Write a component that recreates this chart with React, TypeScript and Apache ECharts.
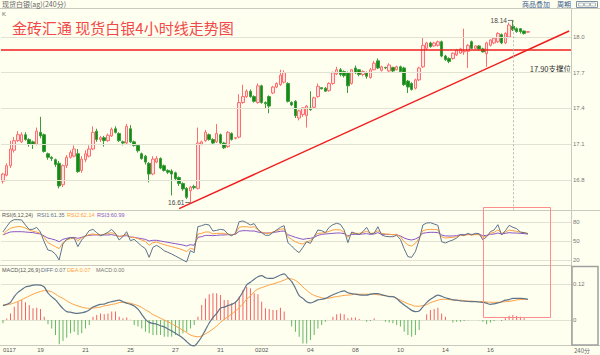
import React, { useEffect, useRef } from 'react';
import * as echarts from 'echarts';

// [open, close, low, high]
const candles: number[][] = [
  [16.79,16.85,16.77,16.86],[16.84,16.92,16.83,16.94],[16.92,17.06,16.90,17.13],[17.05,17.13,17.03,17.16],[17.13,17.18,17.12,17.21],
  [17.12,17.18,17.11,17.20],[17.18,17.14,17.13,17.20],[17.14,17.10,17.08,17.15],[17.12,17.10,17.06,17.13],[17.10,17.21,17.09,17.24],
  [17.20,17.17,17.15,17.33],[17.18,17.04,17.03,17.19],[17.02,16.99,16.97,17.03],[16.99,16.98,16.96,17.00],[16.97,16.93,16.91,16.98],
  [16.94,16.75,16.73,16.96],[16.76,16.92,16.74,16.93],[16.92,16.99,16.90,17.01],[16.99,17.03,16.98,17.05],[17.00,17.06,16.99,17.09],
  [17.02,16.87,16.86,17.06],[16.88,16.975,16.86,17.00],[16.97,17.02,16.95,17.05],[17.00,17.06,16.99,17.09],[17.06,17.20,17.05,17.25],
  [17.21,17.14,17.12,17.23],[17.14,17.155,17.12,17.17],[17.155,17.13,17.08,17.17],[17.13,17.175,17.12,17.19],[17.17,17.225,17.16,17.24],
  [17.23,17.20,17.19,17.25],[17.19,17.13,17.12,17.20],[17.12,17.11,17.09,17.13],[17.11,17.25,17.10,17.27],[17.23,17.12,17.11,17.26],
  [17.12,17.09,17.08,17.13],[17.09,17.045,17.03,17.10],[17.02,16.98,16.97,17.03],[17.00,16.95,16.93,17.01],[16.94,16.85,16.78,16.95],
  [16.85,16.975,16.84,17.00],[16.95,16.98,16.94,17.00],[16.98,16.90,16.89,16.99],[16.92,16.88,16.87,16.93],[16.88,16.865,16.85,16.89],
  [16.875,16.85,16.67,16.89],[16.86,16.81,16.80,16.87],[16.82,16.77,16.75,16.83],[16.77,16.725,16.71,16.78],[16.73,16.655,16.64,16.74],
  [16.71,16.74,16.61,16.75],[16.745,16.735,16.72,16.76],[16.73,17.11,16.72,17.24],[17.10,17.12,17.09,17.13],[17.13,17.20,17.12,17.22],
  [17.18,17.14,17.13,17.19],[17.14,17.11,17.10,17.15],[17.12,17.19,17.11,17.27],[17.18,17.11,17.10,17.19],[17.11,17.07,17.06,17.12],
  [17.08,17.20,17.07,17.21],[17.19,17.14,17.13,17.20],[17.15,17.155,17.14,17.16],[17.16,17.45,17.15,17.52],[17.45,17.50,17.44,17.60],
  [17.50,17.545,17.49,17.56],[17.545,17.50,17.49,17.56],[17.50,17.46,17.45,17.51],[17.45,17.59,17.44,17.61],[17.59,17.45,17.44,17.60],
  [17.45,17.44,17.40,17.46],[17.50,17.42,17.36,17.51],[17.53,17.58,17.52,17.59],[17.58,17.61,17.57,17.62],[17.60,17.68,17.59,17.725],
  [17.62,17.70,17.61,17.72],[17.61,17.46,17.45,17.62],[17.45,17.43,17.42,17.46],[17.46,17.34,17.32,17.47],[17.32,17.38,17.30,17.39],
  [17.35,17.405,17.33,17.41],[17.34,17.42,17.24,17.43],[17.405,17.39,17.38,17.545],[17.41,17.49,17.40,17.50],[17.50,17.586,17.49,17.61],
  [17.575,17.565,17.56,17.58],[17.57,17.545,17.54,17.58],[17.55,17.61,17.54,17.62],[17.61,17.70,17.60,17.71],[17.69,17.725,17.68,17.75],
  [17.725,17.685,17.67,17.74],[17.71,17.675,17.66,17.72],[17.70,17.59,17.53,17.71],[17.61,17.725,17.60,17.73],[17.74,17.70,17.69,17.76],
  [17.725,17.685,17.67,17.73],[17.685,17.71,17.67,17.72],[17.70,17.67,17.65,17.71],[17.66,17.725,17.65,17.74],[17.725,17.78,17.72,17.80],
  [17.80,17.74,17.73,17.82],[17.72,17.75,17.71,17.76],[17.745,17.74,17.73,17.75],[17.715,17.765,17.70,17.78],[17.745,17.715,17.70,17.75],
  [17.725,17.75,17.72,17.76],[17.75,17.71,17.70,17.76],[17.74,17.60,17.59,17.75],[17.63,17.58,17.53,17.64],[17.61,17.56,17.55,17.62],
  [17.57,17.64,17.56,17.65],[17.64,17.74,17.63,17.75],[17.75,17.93,17.74,18.00],[17.905,17.95,17.89,17.96],[17.95,17.92,17.91,17.96],
  [17.925,17.95,17.92,17.96],[17.93,17.96,17.92,17.97],[17.96,17.84,17.83,17.97],[17.84,17.81,17.80,17.85],[17.82,17.795,17.78,17.83],
  [17.82,17.864,17.81,17.87],[17.85,17.89,17.84,17.90],[17.865,17.90,17.86,17.91],[17.875,17.88,17.85,18.07],[17.88,17.93,17.74,17.94],
  [17.96,17.905,17.90,17.97],[17.905,17.925,17.90,17.93],[17.925,17.90,17.89,17.93],[17.90,17.875,17.87,17.91],[17.86,17.95,17.75,17.96],
  [17.93,17.975,17.92,17.98],[17.95,17.99,17.94,18.00],[17.96,18.03,17.95,18.04],[18.02,17.95,17.94,18.03],[17.95,18.03,17.94,18.04],
  [18.00,18.10,17.99,18.12],[18.09,18.06,18.05,18.14],[18.07,18.045,18.035,18.08],[18.07,18.045,18.03,18.075],[18.05,18.03,18.02,18.055],
  [18.04,18.045,18.035,18.05],
];

const rsi1 = [
  64.2,72.6,80.5,83.7,83.7,83.2,75.3,68.4,68.4,71.6, 64.2,48.9,35.8,34.2,29.5,20.0,45.3,52.6,55.3,54.7,
  41.1,51.6,57.9,66.3,68.4,63.2,58.4,60.5,63.7,68.4, 62.1,51.6,56.8,64.7,50.5,52.6,47.4,42.1,37.9,24.2,
  40.0,43.2,39.5,34.7,32.1,29.5,26.3,23.2,20.0,16.8, 34.7,31.6,72.6,74.2,76.3,75.3,65.8,66.8,68.4,67.4,
  61.1,58.4,62.1,80.5,81.6,78.9,75.3,77.4,68.4,63.2, 59.0,59.0,63.2,67.4,71.6,74.2,47.4,42.1,35.8,31.6,
  40.0,48.9,46.3,56.8,67.4,66.3,63.2,71.6,75.8,77.9, 76.3,67.4,47.4,64.2,62.1,60.0,64.7,71.6,61.1,62.1,
  72.6,59.5,57.4,56.8,56.8,59.0,52.6,37.9,25.3,24.2, 33.2,51.6,75.3,78.4,78.9,76.8,74.7,48.9,46.8,49.5,
  51.6,54.7,60.0,59.0,62.1,59.5,62.1,61.6,51.6,56.8, 64.7,67.4,75.8,59.5,66.3,74.7,71.6,69.5,64.2,63.2,61.35,
];
const rsi2 = [
  59.5,66.3,70.0,71.6,72.6,72.6,70.5,67.4,65.3,64.2, 62.1,55.8,47.4,44.2,41.1,37.9,47.4,51.6,53.7,54.7,
  50.5,54.7,57.9,60.0,61.1,60.0,60.0,60.5,61.6,63.2, 61.1,56.8,58.4,60.5,55.8,55.8,53.7,51.6,49.5,43.2,
  47.4,48.4,46.3,44.2,42.6,41.1,39.5,37.9,35.8,33.2, 38.4,36.8,61.1,62.1,64.2,64.2,61.1,62.1,62.1,62.1,
  60.5,59.5,61.1,71.6,72.6,72.6,71.6,72.6,67.4,64.2, 62.1,62.1,64.2,66.3,68.4,69.5,56.8,52.6,48.9,46.3,
  45.3,48.9,50.5,56.8,62.1,62.6,63.2,65.3,67.4,67.9, 67.4,63.7,55.8,62.1,62.1,62.1,63.2,65.3,62.1,62.6,
  66.3,62.1,61.1,60.5,60.0,60.5,56.8,48.9,43.7,42.1, 46.3,54.2,66.3,67.9,68.4,68.4,67.4,56.8,54.7,55.3,
  55.8,56.8,58.9,58.9,60.0,59.5,60.0,60.0,55.8,57.9, 62.1,63.7,67.4,62.1,64.2,67.4,66.3,65.3,63.7,63.2,62.14,
];
const rsi3 = [
  59.5,62.1,64.2,64.7,64.7,64.7,64.2,63.7,63.2,62.1, 61.1,57.9,54.7,53.2,51.6,48.9,52.6,54.2,55.3,55.8,
  54.2,55.8,57.9,58.9,59.5,59.5,59.5,59.5,59.5,60.0, 58.9,57.4,57.9,58.4,56.3,55.8,54.7,53.7,52.6,50.0,
  51.1,51.1,50.0,48.9,47.9,46.8,45.8,44.7,43.7,42.1, 44.2,43.2,55.8,56.8,58.9,58.9,58.4,58.9,59.5,59.5,
  60.0,60.0,60.5,65.3,66.3,66.3,65.8,65.8,64.2,63.2, 62.6,62.6,63.7,64.2,65.3,65.8,60.0,57.9,55.8,54.2,
  52.6,53.7,54.2,55.8,58.9,60.5,61.1,61.6,62.1,62.6, 62.6,61.6,57.9,60.5,60.5,60.5,61.1,61.6,60.5,61.1,
  63.2,60.5,60.5,60.5,60.0,60.0,57.9,54.7,52.6,51.6, 53.2,56.3,62.1,63.2,63.7,63.7,63.2,59.5,57.9,57.9,
  57.9,58.4,60.0,60.0,60.5,60.5,60.5,60.5,58.4,58.9, 60.5,61.1,62.6,61.1,62.1,63.2,62.6,62.6,62.1,61.6,60.99,
];

const diff = [
  0.048,0.052,0.059,0.078,0.092,0.101,0.110,0.113,0.116,0.117, 0.116,0.110,0.090,0.077,0.067,0.052,0.038,0.028,0.026,0.023,
  0.022,0.024,0.027,0.033,0.043,0.048,0.052,0.053,0.058,0.061, 0.064,0.066,0.061,0.056,0.052,0.047,0.036,0.019,0.002,-0.008,
  -0.011,-0.014,-0.019,-0.023,-0.030,-0.037,-0.044,-0.052,-0.061,-0.072, -0.083,-0.086,-0.074,-0.056,-0.033,-0.010,0.008,0.022,0.039,0.043,
  0.048,0.052,0.059,0.074,0.094,0.117,0.126,0.136,0.144,0.148, 0.141,0.139,0.139,0.144,0.150,0.154,0.141,0.128,0.106,0.081,
  0.072,0.061,0.057,0.061,0.067,0.069,0.072,0.078,0.084,0.089, 0.094,0.097,0.091,0.088,0.086,0.084,0.083,0.083,0.086,0.088,
  0.088,0.084,0.081,0.078,0.078,0.072,0.060,0.050,0.041,0.032, 0.028,0.030,0.044,0.058,0.069,0.077,0.083,0.079,0.074,0.071,
  0.067,0.066,0.064,0.063,0.062,0.061,0.061,0.060,0.059,0.056, 0.052,0.054,0.057,0.061,0.066,0.068,0.072,0.072,0.072,0.071,0.069,
];
const dea = [
  0.050,0.051,0.053,0.057,0.062,0.068,0.074,0.080,0.086,0.091, 0.095,0.098,0.097,0.094,0.086,0.078,0.072,0.064,0.057,0.051,
  0.047,0.043,0.040,0.039,0.040,0.041,0.043,0.047,0.049,0.052, 0.054,0.058,0.059,0.058,0.056,0.052,0.048,0.042,0.034,0.027,
  0.018,0.012,0.006,0.000,-0.006,-0.012,-0.020,-0.027,-0.034,-0.042, -0.050,-0.054,-0.056,-0.053,-0.046,-0.039,-0.030,-0.020,-0.008,0.002,
  0.011,0.020,0.030,0.041,0.054,0.070,0.080,0.094,0.103,0.108, 0.112,0.117,0.120,0.124,0.128,0.133,0.138,0.137,0.132,0.123,
  0.110,0.099,0.089,0.082,0.078,0.074,0.072,0.073,0.076,0.078, 0.080,0.082,0.083,0.084,0.086,0.086,0.086,0.086,0.086,0.086,
  0.084,0.083,0.081,0.079,0.078,0.072,0.066,0.060,0.054,0.050, 0.046,0.046,0.048,0.051,0.058,0.062,0.066,0.069,0.069,0.068,
  0.067,0.066,0.066,0.064,0.063,0.063,0.062,0.061,0.061,0.060, 0.059,0.059,0.059,0.060,0.061,0.062,0.064,0.067,0.068,0.069,0.069,
];
const macdHist = [
  -0.011,0.005,0.022,0.044,0.061,0.067,0.059,0.050,0.039,0.041, 0.037,0.011,-0.014,-0.028,-0.050,-0.081,-0.070,-0.059,-0.044,-0.039,
  -0.050,-0.044,-0.028,-0.017,0.011,0.017,0.022,0.019,0.022,0.028, 0.028,0.011,0.006,0.008,0.001,-0.017,-0.022,-0.028,-0.039,-0.044,
  -0.050,-0.050,-0.050,-0.056,-0.056,-0.056,-0.050,-0.050,-0.044,-0.039, -0.028,-0.017,0.011,0.050,0.072,0.086,0.089,0.089,0.083,0.067,
  0.067,0.056,0.059,0.078,0.100,0.111,0.106,0.089,0.086,0.061, 0.039,0.037,0.033,0.033,0.041,0.028,0.000,-0.022,-0.039,-0.056,
  -0.078,-0.078,-0.067,-0.050,-0.028,-0.017,-0.006,0.000,0.011,0.019, 0.022,0.019,0.006,0.008,0.008,0.003,0.000,-0.006,-0.003,0.006,
  0.000,0.000,-0.006,-0.008,-0.011,-0.017,-0.022,-0.039,-0.050,-0.056, -0.050,-0.033,0.000,0.019,0.033,0.037,0.041,0.022,0.011,0.000,
  -0.008,-0.006,-0.006,-0.003,-0.001,0.000,0.000,-0.001,-0.006,-0.014, -0.008,-0.003,0.000,-0.003,0.006,0.014,0.017,0.013,0.011,0.006,0.000,
];

// x axis: 152 slots (141 candles + empty space on the right)
const CATEGORY_COUNT = 152;
const dateLabels: Record<number, string> = {
  0: '0117', 10: '19', 22: '21', 34: '25', 46: '27', 58: '31', 69: '0202',
  82: '04', 94: '08', 106: '10', 118: '14', 130: '16',
};
const priceTicks = [16.8, 17.1, 17.4, 17.7, 18.0];
const priceAxisMin = 16.548;
const priceAxisMax = 18.235;
const supportPrice = 17.885;
const supportLabel = '17.90支撑位';
const trendStart = [47, 16.56];
const trendEnd = [151, 18.05];
const highMark = { idx: 136, price: 18.14 };
const lowMark = { idx: 50, price: 16.61 };

const FONT = '"Liberation Sans", "Noto Sans CJK SC", sans-serif';
const CJK = '"Noto Sans CJK SC", "Liberation Sans", sans-serif';

export default function App() {
  const ref = useRef<HTMLDivElement>(null);
  useEffect(() => {
    document.body.style.margin = '0';
    const chart = echarts.init(ref.current!, null, { renderer: 'svg' });
    const cats = Array.from({ length: CATEGORY_COUNT }, (_, i) => String(i));
    const L = 1, R = 29;
    const last = (a: number[]) => a[a.length - 1];
    const lineColor = '#5F7389';
    const orange = '#FFA040';
    const purple = '#8A55C4';
    const border = '#C9C9BE';
    const LEG = 5.5;

    const xAxisBase = (i: number) => ({
      type: 'category', gridIndex: i, data: cats, boundaryGap: true,
      axisLine: { show: false }, axisTick: { show: false }, splitLine: { show: false },
      axisLabel: { show: false },
    });

    const legend = (x: number, y: number, text: string, fill: string) => ({
      type: 'text', x, y, silent: true,
      style: { text, fontSize: LEG, fill, fontFamily: FONT, verticalAlign: 'middle' },
    });

    const option: any = {
      animation: false,
      textStyle: { fontFamily: FONT },
      grid: [
        { left: L, right: R, top: 9, height: 201 },
        { left: L, right: R, top: 222, height: 38 },
        { left: L, right: R, top: 284, height: 36 },
      ],
      xAxis: [
        xAxisBase(0),
        xAxisBase(1),
        {
          ...xAxisBase(2),
          offset: 25,
          axisLabel: {
            show: true, fontSize: 6, color: '#555', margin: 2,
            alignMinLabel: 'left',
            interval: (idx: number) => dateLabels[idx] !== undefined,
            formatter: (_v: string, idx: number) => dateLabels[idx] ?? '',
          },
        },
      ],
      yAxis: [
        {
          type: 'value', gridIndex: 0, position: 'right', min: priceAxisMin, max: priceAxisMax,
          axisLabel: { show: false }, splitLine: { show: false }, axisLine: { show: false }, axisTick: { show: false },
        },
        {
          type: 'value', gridIndex: 1, position: 'right', min: 20, max: 80, interval: 30,
          axisLabel: { fontSize: 6, color: '#777', margin: 2 },
          splitLine: { lineStyle: { color: '#E2E2D2' } }, axisLine: { show: false }, axisTick: { show: false },
        },
        {
          type: 'value', gridIndex: 2, position: 'right', min: 0, max: 0.12, interval: 0.12,
          axisLabel: { fontSize: 6, color: '#777', margin: 2, formatter: (v: number) => (v === 0 ? '0' : v.toFixed(2)) },
          splitLine: { lineStyle: { color: '#E2E2D2' } }, axisLine: { show: false }, axisTick: { show: false },
        },
      ],
      series: [
        {
          type: 'line', xAxisIndex: 0, yAxisIndex: 0, data: [], z: 1, silent: true,
          markLine: {
            silent: true, symbol: ['none', 'none'], animation: false,
            lineStyle: { color: '#E2E2D2', width: 1, type: 'solid' },
            label: { show: true, position: 'end', distance: 2, fontSize: 6, color: '#777', fontFamily: FONT,
              formatter: (p: any) => Number(p.value).toFixed(1) },
            emphasis: { disabled: true },
            data: priceTicks.map((v) => ({ yAxis: v })),
          },
        },
        {
          type: 'candlestick', xAxisIndex: 0, yAxisIndex: 0, data: candles, barWidth: 3,
          itemStyle: { color: '#FFE2E2', color0: '#108C10', borderColor: '#FF6E6E', borderColor0: '#3C9C3C', borderWidth: 1 },
          markLine: {
            silent: true, symbol: ['none', 'none'], animation: false,
            label: { show: false },
            emphasis: { disabled: true },
            data: [
              { yAxis: supportPrice, lineStyle: { color: '#F01E1E', width: 1.5, type: 'solid' } },
              [{ coord: trendStart, lineStyle: { color: '#F01E1E', width: 1.5, type: 'solid' } }, { coord: trendEnd }],
              [{ coord: [highMark.idx, highMark.price], lineStyle: { color: '#B8B8B8', width: 1, type: [2, 2] } },
               { coord: [highMark.idx, priceAxisMin + 0.002] }],
            ],
          },
          markPoint: {
            silent: true, animation: false,
            symbol: 'rect', symbolSize: [5, 0.8], symbolOffset: [-2.5, 0],
            itemStyle: { color: '#555' },
            label: { show: true, position: 'left', distance: 1, fontSize: 6.5, color: '#444', fontFamily: FONT },
            data: [
              { coord: [highMark.idx, highMark.price], value: highMark.price, label: { formatter: highMark.price.toFixed(2) } },
              { coord: [lowMark.idx, lowMark.price], value: lowMark.price, label: { formatter: lowMark.price.toFixed(2) } },
            ],
          },
        },
        { type: 'line', xAxisIndex: 1, yAxisIndex: 1, data: rsi3, symbol: 'none', clip: false, lineStyle: { color: purple, width: 1 } },
        { type: 'line', xAxisIndex: 1, yAxisIndex: 1, data: rsi2, symbol: 'none', clip: false, lineStyle: { color: orange, width: 1 } },
        { type: 'line', xAxisIndex: 1, yAxisIndex: 1, data: rsi1, symbol: 'none', clip: false, lineStyle: { color: lineColor, width: 1 } },
        {
          type: 'bar', xAxisIndex: 2, yAxisIndex: 2, barWidth: 1, clip: false,
          data: macdHist.map((v) => ({ value: v, itemStyle: { color: v >= 0 ? '#F46262' : '#62B862' } })),
        },
        { type: 'line', xAxisIndex: 2, yAxisIndex: 2, data: dea, symbol: 'none', clip: false, smooth: 0.3, lineStyle: { color: orange, width: 1 } },
        { type: 'line', xAxisIndex: 2, yAxisIndex: 2, data: diff, symbol: 'none', clip: false, smooth: 0.3, lineStyle: { color: lineColor, width: 1.2 } },
      ],
      graphic: [
        { type: 'line', shape: { x1: 0, y1: 8.5, x2: 600, y2: 8.5 }, style: { stroke: border, lineWidth: 1 }, silent: true },
        { type: 'text', x: 2, y: 4, style: { text: '现货白银(ag)(240分)', fontSize: 7, fill: '#666', fontFamily: CJK, verticalAlign: 'middle' }, silent: true },
        { type: 'text', x: 522, y: 4, style: { text: '商品叠加', fontSize: 7, fill: '#3A5C8C', fontFamily: CJK, verticalAlign: 'middle' }, silent: true },
        { type: 'text', x: 557, y: 4, style: { text: '周期', fontSize: 7, fill: '#3A5C8C', fontFamily: CJK, verticalAlign: 'middle' }, silent: true },
        { type: 'rect', shape: { x: 576.5, y: 1.5, width: 21, height: 6 }, style: { fill: 'none', stroke: '#8092A8', lineWidth: 1 }, silent: true },
        { type: 'rect', shape: { x: 578.5, y: 3, width: 5, height: 3 }, style: { fill: 'none', stroke: '#8092A8', lineWidth: 0.6 }, silent: true },
        { type: 'rect', shape: { x: 584.5, y: 3, width: 5, height: 3 }, style: { fill: 'none', stroke: '#8092A8', lineWidth: 0.6 }, silent: true },
        { type: 'rect', shape: { x: 590.5, y: 3, width: 5, height: 3 }, style: { fill: 'none', stroke: '#8092A8', lineWidth: 0.6 }, silent: true },
        { type: 'text', x: 2, y: 13.5, style: { text: 'K', fontSize: 6, fill: '#666', fontFamily: FONT, verticalAlign: 'middle' }, silent: true },
        { type: 'text', x: 12, y: 27, style: { text: '金砖汇通 现货白银4小时线走势图', fontSize: 15, fill: '#F24848', fontFamily: CJK, verticalAlign: 'middle' }, silent: true },
        { type: 'text', x: 571, y: 68, style: { text: supportLabel, fontSize: 7.5, fill: '#333', fontFamily: CJK, align: 'right', verticalAlign: 'middle' }, silent: true },
        // panel frame
        { type: 'line', shape: { x1: 571.5, y1: 8.5, x2: 571.5, y2: 346 }, style: { stroke: border, lineWidth: 1 }, silent: true },
        { type: 'line', shape: { x1: 0, y1: 210.5, x2: 600, y2: 210.5 }, style: { stroke: border, lineWidth: 1 }, silent: true },
        { type: 'line', shape: { x1: 0, y1: 265.5, x2: 571.5, y2: 265.5 }, style: { stroke: border, lineWidth: 1 }, silent: true },
        { type: 'line', shape: { x1: 0, y1: 345.5, x2: 600, y2: 345.5 }, style: { stroke: border, lineWidth: 1 }, silent: true },
        { type: 'rect', shape: { x: 572, y: 266.5, width: 26, height: 78.5 }, style: { fill: 'none', stroke: '#A0A0A0', lineWidth: 1.5 }, silent: true },
        { type: 'text', x: 574, y: 350.5, style: { text: '240分', fontSize: 6, fill: '#666', fontFamily: CJK, verticalAlign: 'middle' }, silent: true },
        // indicator legends
        legend(2, 215, 'RSI(6,12,24)', '#555'),
        legend(37, 215, 'RSI1:' + last(rsi1).toFixed(2), lineColor),
        legend(67, 215, 'RSI2:' + last(rsi2).toFixed(2), orange),
        legend(97, 215, 'RSI3:' + last(rsi3).toFixed(2), purple),
        legend(2, 270, 'MACD(12,26,9)', '#555'),
        legend(41, 270, 'DIFF:' + last(diff).toFixed(2), lineColor),
        legend(67, 270, 'DEA:' + last(dea).toFixed(2), orange),
        legend(96, 270, 'MACD:' + last(macdHist).toFixed(2), '#777'),
        // annotation box
        { type: 'rect', shape: { x: 483.5, y: 207.5, width: 67, height: 110 }, style: { fill: 'none', stroke: '#FF8C8C', lineWidth: 1 }, silent: true, z: 100 },
      ],
    };
    chart.setOption(option);
    return () => chart.dispose();
  }, []);
  return <div ref={ref} style={{ position: 'fixed', left: 0, top: 0, width: 600, height: 355, background: '#FFFFF0' }} />;
}
